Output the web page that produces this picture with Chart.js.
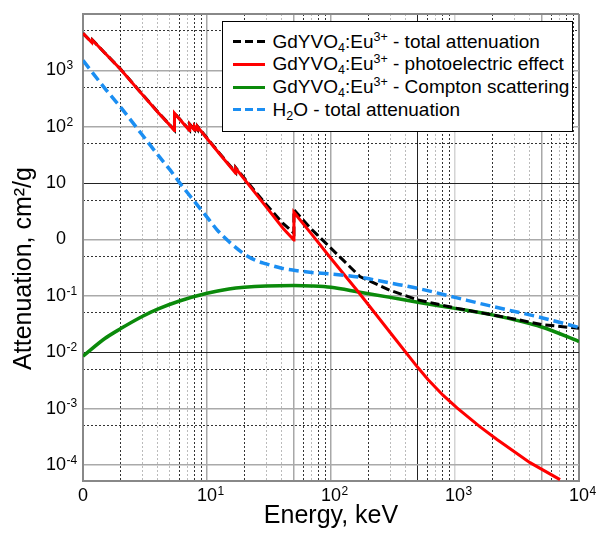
<!DOCTYPE html>
<html>
<head>
<meta charset="utf-8">
<script src="https://cdn.jsdelivr.net/npm/chart.js@4.4.0/dist/chart.umd.min.js"></script>
<style>
  body { margin: 0; background: #fff; }
  #wrap { position: relative; width: 597px; height: 536px; }
  #legend {
    position: absolute; left: 222px; top: 21px; width: 351px; height: 111px;
    box-sizing: border-box; background: #fff; border: 1.5px solid #000;
    font: 19px "Liberation Sans", Arial, sans-serif; color: #000; padding-top: 8.5px;
  }
  .row { position: relative; height: 22.7px; line-height: 22.7px; white-space: nowrap; }
  .swatch { position: absolute; left: 9.5px; top: 9.9px; width: 32px; height: 3px; }
  .txt { position: absolute; left: 49.5px; top: 0; }
  sub, sup { font-size: 12.5px; line-height: 0; }
  sub { vertical-align: -4px; }
  sup { vertical-align: 7px; }
</style>
</head>
<body>
<div id="wrap">
  <canvas id="chart" width="597" height="536"></canvas>
  <div id="legend"></div>
</div>
<script>
const FONT = '"Liberation Sans", Arial, sans-serif';

// Axis ranges and tick labels (labels drawn as 10 + exponent)
const xMin = 1, xMax = 1e4;
const yMin = 5.2e-5, yMax = 1e4;
const xTickVals = [1, 10, 100, 1000, 10000];
const xTickBase = ['0', '10', '10', '10', '10'];
const xTickExp = ['', '1', '2', '3', '4'];
const yTickVals = [1e-4, 1e-3, 1e-2, 1e-1, 1, 10, 100, 1000];
const yTickBase = ['10', '10', '10', '10', '0', '10', '10', '10'];
const yTickExp = ['-4', '-3', '-2', '-1', '', '', '2', '3'];
const xTitle = 'Energy, keV';
const yTitle = 'Attenuation, cm²/g';

// GdYVO4:Eu3+ photoelectric effect
const redE = [1, 1.18, 1.19, 1.5, 2, 3, 4, 5, 5.46, 5.47, 6.5, 7.24, 7.25, 7.92, 7.93, 8.37, 8.38, 10, 13, 17.03, 17.05, 25, 30, 41, 50.2, 50.25, 70, 100, 162, 300, 500, 605, 800, 1038, 1585, 2182, 4027, 7030];
const redVal = [4530, 3100, 3450, 2030, 1060, 375, 183, 107, 86, 173, 112, 86, 110, 88, 102, 88, 100, 62, 30.5, 15.0, 18.3, 6.3, 3.8, 1.58, 0.98, 3.03, 1.23, 0.46, 0.126, 0.0224, 0.0054, 0.00328, 0.00173, 0.00103, 0.00048, 0.000283, 0.00011, 0.000055];

// GdYVO4:Eu3+ total attenuation
const blackE = [1, 1.18, 1.19, 1.5, 2, 3, 4, 5, 5.46, 5.47, 6.5, 7.24, 7.25, 7.92, 7.93, 8.37, 8.38, 10, 13, 17.03, 17.05, 25, 30, 41, 50.2, 50.25, 70, 100, 171, 300, 500, 1000, 2000, 3000, 5000, 10000];
const blackVal = [4540, 3110, 3460, 2040, 1065, 378, 185, 108.5, 87.3, 174, 113.5, 87.3, 111.3, 89.2, 103.2, 89.1, 101.2, 63, 31.2, 15.5, 18.8, 6.7, 4.2, 1.93, 1.3, 3.35, 1.5, 0.70, 0.22, 0.125, 0.085, 0.061, 0.046, 0.039, 0.031, 0.0265];

// GdYVO4:Eu3+ Compton scattering
const greenE = [1, 1.5, 2, 3, 4, 6, 10, 15, 20, 30, 50, 70, 100, 171, 300, 500, 1000, 2000, 5000, 10000];
const greenVal = [0.0085, 0.0175, 0.026, 0.043, 0.058, 0.081, 0.111, 0.132, 0.142, 0.15, 0.153, 0.15, 0.142, 0.116, 0.094, 0.077, 0.06, 0.046, 0.028, 0.0155];

// H2O total attenuation
const blueE = [1, 1.5, 2, 3, 4, 5, 6, 8, 10, 12, 15, 20, 25, 30, 40, 50, 70, 100, 171, 300, 500, 1000, 2000, 5000, 10000];
const blueVal = [1500, 480, 225, 72, 32, 17.5, 10.2, 4.6, 2.5, 1.5, 0.92, 0.55, 0.42, 0.37, 0.31, 0.285, 0.26, 0.245, 0.214, 0.169, 0.136, 0.094, 0.065, 0.041, 0.0275];

const legendHtml = [
  'GdYVO<sub>4</sub>:Eu<sup>3+</sup> - total attenuation',
  'GdYVO<sub>4</sub>:Eu<sup>3+</sup> - photoelectric effect',
  'GdYVO<sub>4</sub>:Eu<sup>3+</sup> - Compton scattering',
  'H<sub>2</sub>O - total attenuation'
];

function toPoints(xs, ys) {
  return xs.map((x, i) => ({ x: x, y: ys[i] }));
}

// grid positions
const xMajorGrid = [1, 10, 50, 100, 500, 1000, 5000, 10000];
const xMinorGrid = [];
for (let d = 1; d < xMax; d *= 10) {
  [2, 3, 4, 5, 6, 7, 8, 9].forEach(m => {
    if (m !== 5 || d === 1) xMinorGrid.push(m * d);
  });
}
const yMajorGrid = yTickVals.concat([yMax]);
const yMinorGrid = [5e-4, 5e-3, 5e-2, 0.5, 5, 50, 500, 5000];

function mantissa(v) {
  return Math.round(v / Math.pow(10, Math.floor(Math.log10(v) + 1e-9)));
}

function drawPower(ctx, base, exp, px, py, align) {
  ctx.font = '18px ' + FONT;
  ctx.textAlign = 'left';
  const w = ctx.measureText(base).width;
  const left = align === 'center' ? px - w / 2 : px - w;
  ctx.fillText(base, left, py);
  if (exp) {
    ctx.font = '12px ' + FONT;
    ctx.fillText(exp, left + w + 0.5, py - 4.5);
  }
}

const axisText = {
  id: 'axisText',
  afterDraw(chart) {
    const { ctx, chartArea } = chart;
    const x = chart.scales.x, y = chart.scales.y;
    ctx.save();
    ctx.fillStyle = '#000';
    ctx.textBaseline = 'middle';
    xTickVals.forEach((v, i) => {
      drawPower(ctx, xTickBase[i], xTickExp[i], x.getPixelForValue(v), chartArea.bottom + 15, 'center');
    });
    yTickVals.forEach((v, i) => {
      drawPower(ctx, yTickBase[i], yTickExp[i], chartArea.left - 17, y.getPixelForValue(v), 'right');
    });
    ctx.font = '25px ' + FONT;
    ctx.textAlign = 'center';
    ctx.fillText(xTitle, (chartArea.left + chartArea.right) / 2, chartArea.bottom + 35);
    ctx.translate(24, (chartArea.top + chartArea.bottom) / 2 + 21);
    ctx.rotate(-Math.PI / 2);
    ctx.fillText(yTitle, 0, 0);
    ctx.restore();
  }
};

const ctx = document.getElementById('chart').getContext('2d');
const myChart = new Chart(ctx, {
  type: 'line',
  data: {
    datasets: [
      {
        label: 'GdYVO4:Eu3+ - total attenuation',
        data: toPoints(blackE, blackVal),
        borderColor: '#000', borderWidth: 3, borderDash: [9, 4], order: 3
      },
      {
        label: 'GdYVO4:Eu3+ - photoelectric effect',
        data: toPoints(redE, redVal),
        borderColor: '#ff0000', borderWidth: 3, order: 2
      },
      {
        label: 'GdYVO4:Eu3+ - Compton scattering',
        data: toPoints(greenE, greenVal),
        borderColor: '#0b8a0b', borderWidth: 3.5, cubicInterpolationMode: 'monotone', order: 4
      },
      {
        label: 'H2O - total attenuation',
        data: toPoints(blueE, blueVal),
        borderColor: '#1b8ef2', borderWidth: 3.5, borderDash: [10, 5], cubicInterpolationMode: 'monotone', order: 1
      }
    ]
  },
  options: {
    responsive: false,
    animation: false,
    layout: { padding: { left: 0, right: 18, top: 14, bottom: 0 } },
    elements: { point: { radius: 0 }, line: { tension: 0, borderCapStyle: 'butt' } },
    plugins: { legend: { display: false }, tooltip: { enabled: false } },
    scales: {
      x: {
        type: 'logarithmic', min: xMin, max: xMax, position: 'bottom',
        afterBuildTicks: s => { s.ticks = xMajorGrid.map(v => ({ value: v })); },
        afterFit: s => { s.height = 55; },
        ticks: { display: false },
        grid: {
          drawTicks: false,
          color: c => {
            const v = c.tick.value;
            if (v === xMin || v === xMax) return '#888';
            if (v === 500) return '#222';
            if (v === 1000) return '#d4d4d4';
            return '#a8a8a8';
          },
          lineWidth: c => {
            const v = c.tick.value;
            if (v === xMin || v === xMax) return 2;
            if (v === 500) return 1;
            return 1.5;
          }
        },
        border: { display: true, color: '#888', width: 2 }
      },
      xMinor: {
        type: 'logarithmic', min: xMin, max: xMax, position: 'bottom',
        afterBuildTicks: s => { s.ticks = xMinorGrid.map(v => ({ value: v })); },
        afterFit: s => { s.height = 0; },
        ticks: { display: false },
        grid: {
          drawTicks: false, lineWidth: 1,
          color: c => ([2, 6, 8, 9].includes(mantissa(c.tick.value)) ? '#333' : '#bbb')
        },
        border: { display: false, dash: [2, 2] }
      },
      y: {
        type: 'logarithmic', min: yMin, max: yMax, position: 'left',
        afterBuildTicks: s => { s.ticks = yMajorGrid.map(v => ({ value: v })); },
        afterFit: s => { s.width = 83; },
        ticks: { display: false },
        grid: {
          drawTicks: false,
          color: c => {
            const v = c.tick.value;
            if (v === yMax) return '#888';
            if (v === 10 || v === 1e-2) return '#222';
            return '#aaa';
          },
          lineWidth: c => {
            const v = c.tick.value;
            if (v === yMax) return 2;
            if (v === 10 || v === 1e-2) return 1;
            return 1.5;
          }
        },
        border: { display: true, color: '#888', width: 2 }
      },
      yMinor: {
        type: 'logarithmic', min: yMin, max: yMax, position: 'left',
        afterBuildTicks: s => { s.ticks = yMinorGrid.map(v => ({ value: v })); },
        afterFit: s => { s.width = 0; },
        ticks: { display: false },
        grid: { drawTicks: false, lineWidth: 1, color: '#333' },
        border: { display: false, dash: [2, 2] }
      }
    }
  },
  plugins: [axisText]
});

// Legend built from the dataset colours
const legendEl = document.getElementById('legend');
myChart.data.datasets.forEach((ds, i) => {
  const row = document.createElement('div');
  row.className = 'row';
  const sw = document.createElement('div');
  sw.className = 'swatch';
  if (ds.borderDash) {
    sw.style.background = 'repeating-linear-gradient(90deg, ' + ds.borderColor + ' 0 8px, transparent 8px 12px)';
  } else {
    sw.style.background = ds.borderColor;
  }
  const txt = document.createElement('span');
  txt.className = 'txt';
  txt.innerHTML = legendHtml[i];
  row.appendChild(sw);
  row.appendChild(txt);
  legendEl.appendChild(row);
});
</script>
</body>
</html>
